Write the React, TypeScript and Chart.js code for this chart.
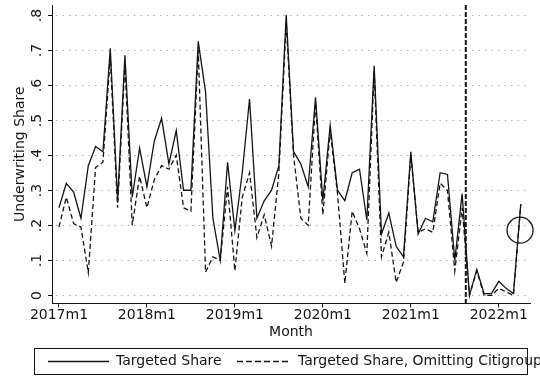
import { useEffect, useRef } from "react";
import { Chart, registerables } from "chart.js";

Chart.register(...registerables);

// Monthly underwriting shares, 2017m1 .. 2022m4
const targetedShare = [
  0.25, 0.32, 0.295, 0.22, 0.37, 0.425, 0.41, 0.705, 0.27, 0.685, 0.28, 0.42,
  0.31, 0.44, 0.505, 0.375, 0.47, 0.30, 0.30, 0.725, 0.58, 0.22, 0.10, 0.38,
  0.185, 0.35, 0.56, 0.22, 0.27, 0.30, 0.37, 0.80, 0.41, 0.375, 0.31, 0.565,
  0.27, 0.485, 0.30, 0.27, 0.35, 0.36, 0.215, 0.655, 0.175, 0.235, 0.14, 0.11,
  0.41, 0.175, 0.22, 0.21, 0.35, 0.345, 0.10, 0.29, 0.0, 0.074, 0.005, 0.005,
  0.04, 0.02, 0.005, 0.26,
];

const targetedShareExCiti = [
  0.195, 0.28, 0.205, 0.195, 0.065, 0.365, 0.38, 0.68, 0.25, 0.66, 0.20, 0.34,
  0.25, 0.33, 0.37, 0.36, 0.40, 0.25, 0.24, 0.70, 0.066, 0.11, 0.10, 0.31,
  0.07, 0.28, 0.35, 0.165, 0.23, 0.14, 0.35, 0.78, 0.40, 0.22, 0.20, 0.55,
  0.23, 0.47, 0.29, 0.034, 0.24, 0.19, 0.12, 0.64, 0.11, 0.18, 0.037, 0.095,
  0.40, 0.18, 0.19, 0.18, 0.32, 0.30, 0.07, 0.25, 0.0, 0.07, 0.0, 0.0,
  0.02, 0.01, 0.0, 0.26,
];

const xTickMonths = [0, 12, 24, 36, 48, 60];
const xTickLabels = ["2017m1", "2018m1", "2019m1", "2020m1", "2021m1", "2022m1"];
const yTickValues = [0, 0.1, 0.2, 0.3, 0.4, 0.5, 0.6, 0.7, 0.8];
const yTickLabels = ["0", ".1", ".2", ".3", ".4", ".5", ".6", ".7", ".8"];
const legendLabels = ["Targeted Share", "Targeted Share, Omitting Citigroup"];

// Reference line between 2021m8 and 2021m9, and the highlighted last observation
const cutoffMonth = 55.5;
const flaggedMonth = 62.9;
const flaggedValue = 0.186;

const FONT = '"DejaVu Sans", Verdana, sans-serif';
const INK = "#141414";

const axisDecor = {
  id: "axisDecor",
  beforeDatasetsDraw(chart: any) {
    const { ctx, chartArea: a, scales } = chart;
    const y = scales.y;
    ctx.save();
    ctx.strokeStyle = "#b0b0b0";
    ctx.lineWidth = 1;
    ctx.setLineDash([1.5, 5]);
    yTickValues.forEach((v) => {
      const py = Math.round(y.getPixelForValue(v)) + 0.5;
      ctx.beginPath();
      ctx.moveTo(a.left + 4, py);
      ctx.lineTo(a.right, py);
      ctx.stroke();
    });
    ctx.restore();
  },
  afterDatasetsDraw(chart: any) {
    const { ctx, chartArea: a, scales } = chart;
    const { x, y } = scales;
    ctx.save();
    // vertical dashed marker
    const px = x.getPixelForValue(cutoffMonth);
    ctx.strokeStyle = INK;
    ctx.lineWidth = 2;
    ctx.setLineDash([5, 2]);
    ctx.beginPath();
    ctx.moveTo(px, a.top);
    ctx.lineTo(px, a.bottom);
    ctx.stroke();
    // circle round the last observation
    ctx.setLineDash([]);
    ctx.lineWidth = 1.3;
    ctx.beginPath();
    ctx.arc(x.getPixelForValue(flaggedMonth), y.getPixelForValue(flaggedValue), 13, 0, Math.PI * 2);
    ctx.stroke();
    ctx.restore();
  },
  afterDraw(chart: any) {
    const { ctx, chartArea: a, scales } = chart;
    const y = scales.y;
    ctx.save();
    ctx.fillStyle = INK;
    ctx.strokeStyle = INK;
    ctx.lineWidth = 1;
    ctx.setLineDash([]);
    ctx.font = `14px ${FONT}`;
    // y tick marks and rotated labels
    yTickValues.forEach((v, i) => {
      const py = Math.round(y.getPixelForValue(v)) + 0.5;
      ctx.beginPath();
      ctx.moveTo(a.left - 4, py);
      ctx.lineTo(a.left, py);
      ctx.stroke();
      ctx.save();
      ctx.translate(a.left - 11, py);
      ctx.rotate(-Math.PI / 2);
      ctx.textAlign = "center";
      ctx.textBaseline = "alphabetic";
      ctx.fillText(yTickLabels[i], 0, 0);
      ctx.restore();
    });
    // y axis title
    ctx.save();
    ctx.translate(23.5, (a.top + a.bottom) / 2);
    ctx.rotate(-Math.PI / 2);
    ctx.textAlign = "center";
    ctx.textBaseline = "alphabetic";
    ctx.fillText("Underwriting Share", 0, 0);
    ctx.restore();

    // legend
    const top = 348.5;
    const h = 26;
    const mid = top + h / 2;
    ctx.strokeRect(34.5, top, 493, h);
    ctx.lineWidth = 1.3;
    ctx.beginPath();
    ctx.moveTo(48, mid);
    ctx.lineTo(109, mid);
    ctx.stroke();
    ctx.setLineDash([6, 3]);
    ctx.beginPath();
    ctx.moveTo(237, mid);
    ctx.lineTo(291, mid);
    ctx.stroke();
    ctx.setLineDash([]);
    ctx.textAlign = "left";
    ctx.textBaseline = "middle";
    ctx.fillText(legendLabels[0], 116, mid);
    ctx.fillText(legendLabels[1], 298, mid);
    ctx.restore();
  },
};

export default function App() {
  const canvasRef = useRef<HTMLCanvasElement | null>(null);

  useEffect(() => {
    const canvas = canvasRef.current;
    if (!canvas) return;
    const toPoints = (arr: number[]) => arr.map((v, i) => ({ x: i, y: v }));
    const chart = new Chart(canvas, {
      type: "line",
      data: {
        datasets: [
          {
            label: legendLabels[0],
            data: toPoints(targetedShare),
            borderColor: INK,
            borderWidth: 1.3,
            pointRadius: 0,
            tension: 0,
            fill: false,
          },
          {
            label: legendLabels[1],
            data: toPoints(targetedShareExCiti),
            borderColor: INK,
            borderWidth: 1.3,
            borderDash: [5, 3],
            pointRadius: 0,
            tension: 0,
            fill: false,
          },
        ],
      },
      options: {
        animation: false,
        responsive: false,
        layout: { padding: { left: 52, top: 5, right: 10, bottom: 36 } },
        plugins: { legend: { display: false }, tooltip: { enabled: false } },
        scales: {
          x: {
            type: "linear",
            min: -0.95,
            max: 64.26,
            afterBuildTicks: (s: any) => {
              s.ticks = xTickMonths.map((v) => ({ value: v }));
            },
            ticks: {
              padding: 0,
              autoSkip: false,
              maxRotation: 0,
              color: INK,
              font: { family: FONT, size: 14 },
              callback: (v: any) => {
                const k = xTickMonths.indexOf(Number(v));
                return k >= 0 ? xTickLabels[k] : "";
              },
            },
            grid: {
              display: true,
              drawOnChartArea: false,
              drawTicks: true,
              tickLength: 4,
              color: INK,
              tickColor: INK,
            },
            border: { display: true, color: INK, width: 1 },
            title: {
              display: true,
              text: "Month",
              color: INK,
              padding: { top: 0, bottom: 0 },
              font: { family: FONT, size: 14 },
            },
          },
          y: {
            min: -0.0229,
            max: 0.8286,
            afterBuildTicks: (s: any) => {
              s.ticks = yTickValues.map((v) => ({ value: v }));
            },
            ticks: { display: false },
            grid: { display: false, drawTicks: false },
            border: { display: true, color: INK, width: 1 },
          },
        },
      },
      plugins: [axisDecor],
    });
    return () => chart.destroy();
  }, []);

  return (
    <div style={{ position: "fixed", left: 0, top: 0, width: 540, height: 377, background: "#fff" }}>
      <canvas ref={canvasRef} width={540} height={377} />
    </div>
  );
}
